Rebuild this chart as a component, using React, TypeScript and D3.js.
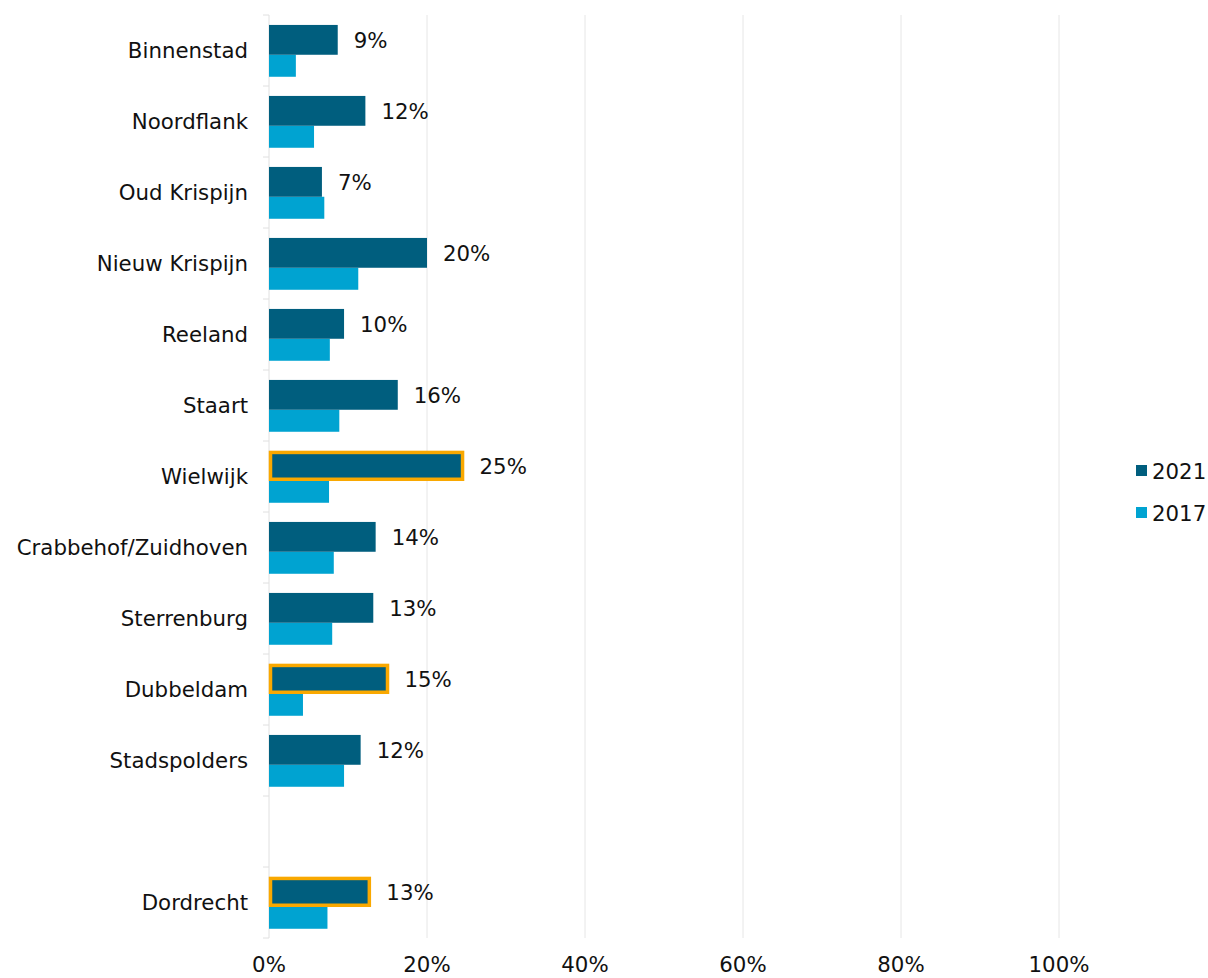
import React from "react";
import * as d3 from "d3";

const categories = [
  "Binnenstad", "Noordflank", "Oud Krispijn", "Nieuw Krispijn", "Reeland", "Staart",
  "Wielwijk", "Crabbehof/Zuidhoven", "Sterrenburg", "Dubbeldam", "Stadspolders", "", "Dordrecht",
];
const values2021: (number | null)[] = [8.7, 12.2, 6.7, 20.0, 9.5, 16.3, 24.5, 13.5, 13.2, 15.0, 11.6, null, 12.7];
const values2017: (number | null)[] = [3.4, 5.7, 7.0, 11.3, 7.7, 8.9, 7.6, 8.2, 8.0, 4.3, 9.5, null, 7.4];
const labels2021 = ["9%", "12%", "7%", "20%", "10%", "16%", "25%", "14%", "13%", "15%", "12%", "", "13%"];
const highlighted = ["Wielwijk", "Dubbeldam", "Dordrecht"];
const xTicks = [0, 20, 40, 60, 80, 100];
const seriesNames = ["2021", "2017"];

const DARK = "#005E7E";
const LIGHT = "#00A3D1";
const ORANGE = "#F9A800";
const FONT = "'DejaVu Sans', Verdana, sans-serif";
const FS = 21.3;

export default function App() {
  const W = 1208, H = 978;
  const left = 269, top = 15, bottom = 938;
  const x = d3.scaleLinear().domain([0, 100]).range([left, 1059]);
  const y = d3.scaleBand<number>().domain(d3.range(categories.length)).range([top, bottom]).paddingInner(0).paddingOuter(0);
  const bw = y.bandwidth();
  const groupTop = bw * 0.14;
  const darkH = bw * 0.42;
  const lightH = bw * 0.31;

  return (
    <svg width={W} height={H} style={{ position: "absolute", left: 0, top: 0 }} fontFamily={FONT}>
      {xTicks.filter((t) => t > 0).map((t) => (
        <line key={t} x1={x(t)} x2={x(t)} y1={top} y2={bottom} stroke="#e6e6e6" strokeWidth={1} />
      ))}
      <line x1={left} x2={left} y1={top} y2={bottom} stroke="#e0e0e0" strokeWidth={1} />
      {d3.range(categories.length + 1).map((i) => {
        const yy = i < categories.length ? (y(i) as number) : bottom;
        return <line key={i} x1={left - 6} x2={left} y1={yy} y2={yy} stroke="#e0e0e0" strokeWidth={1} />;
      })}
      {categories.map((c, i) => {
        const y0 = y(i) as number;
        const v21 = values2021[i];
        const v17 = values2017[i];
        const hl = highlighted.includes(c);
        return (
          <g key={i}>
            {c && (
              <text x={248} y={y0 + bw / 2} textAnchor="end" dominantBaseline="central" fontSize={FS} fill="#111">
                {c}
              </text>
            )}
            {v17 != null && (
              <rect x={x(0)} y={y0 + groupTop + darkH} width={x(v17) - x(0)} height={lightH} fill={LIGHT} />
            )}
            {v21 != null && (
              <rect
                x={x(0) + (hl ? 1.5 : 0)}
                y={y0 + groupTop + (hl ? 1.5 : 0)}
                width={x(v21) - x(0) - (hl ? 1.5 : 0)}
                height={darkH - (hl ? 3 : 0)}
                fill={DARK}
                stroke={hl ? ORANGE : "none"}
                strokeWidth={hl ? 3.5 : 0}
              />
            )}
            {v21 != null && (
              <text x={x(v21) + (hl ? 17 : 16)} y={y0 + groupTop + darkH / 2 + 1} dominantBaseline="central" fontSize={FS} fill="#111">
                {labels2021[i]}
              </text>
            )}
          </g>
        );
      })}
      {xTicks.map((t) => (
        <text key={t} x={x(t)} y={972} textAnchor="middle" fontSize={FS} fill="#111">
          {t}%
        </text>
      ))}
      {seriesNames.map((s, i) => (
        <g key={s} transform={`translate(1136, ${471 + i * 42})`}>
          <rect x={0} y={-6} width={11} height={11} fill={i === 0 ? DARK : LIGHT} />
          <text x={16} y={0} dominantBaseline="central" fontSize={FS} fill="#111">
            {s}
          </text>
        </g>
      ))}
    </svg>
  );
}
